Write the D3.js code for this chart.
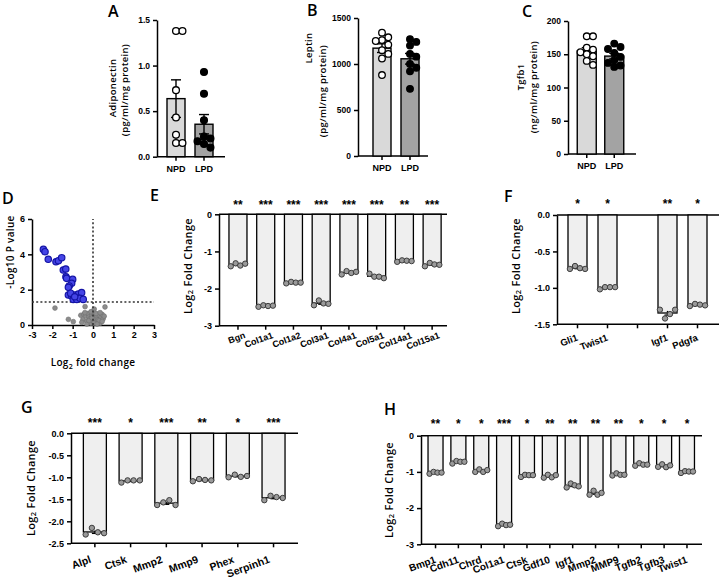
<!DOCTYPE html>
<html>
<head>
<meta charset="utf-8">
<script src="https://cdn.jsdelivr.net/npm/d3@7"></script>
<style>
  body { margin: 0; background: #fff; }
</style>
</head>
<body>
<svg id="fig" width="723" height="584"></svg>
<script>
// ---- data ----
var groups = ['NPD', 'LPD'];
var adipoNPD = [1.38, 1.38, 0.73, 0.43, 0.24, 0.15, 0.15];
var adipoLPD = [0.93, 0.69, 0.40, 0.22, 0.20, 0.17, 0.14, 0.10];
var leptinNPD = [1340, 1290, 1260, 1250, 1210, 1150, 1110, 1060, 880];
var leptinLPD = [1270, 1240, 1200, 1110, 1080, 1000, 960, 920, 730];
var tgfbNPD = [177, 177, 160, 157, 153, 150, 147, 140, 134];
var tgfbLPD = [166, 161, 158, 152, 146, 141, 137, 133, 131];

var sigX = [-2.44, -2.36, -2.2, -1.82, -1.7, -1.54, -1.46, -1.34, -1.33, -1.3, -1.0, -1.05, -1.17, -1.21,
            -1.21, -1.05, -0.89, -0.72, -0.56, -0.97, -0.8, -0.64, -0.48, -1.1, -0.9];
var sigY = [4.28, 4.15, 3.72, 3.58, 3.64, 3.81, 3.11, 3.17, 2.73, 2.64, 2.58, 2.36, 2.21, 2.13,
            1.7, 1.64, 1.7, 1.75, 1.83, 1.45, 1.45, 1.51, 1.45, 1.8, 1.6];
var nsX = [-1.87, -1.21, -0.97, -0.39, 0.06, 0.59, -0.6, -0.5, -0.45, -0.35, -0.3, -0.25, -0.2, -0.15,
           -0.1, -0.05, 0.0, 0.05, 0.1, 0.15, 0.2, 0.25, 0.3, 0.35, 0.4, 0.45, 0.5, 0.55, -0.55, -0.4,
           -0.3, -0.2, -0.1, 0.05, 0.15, 0.3, 0.45, 0.2, -0.05, 0.35];
var nsY = [0.96, 0.32, 0.19, 1.04, 0.9, 1.02, 0.55, 0.3, 0.6, 0.5, 0.2, 0.65, 0.45, 0.35,
           0.1, 0.55, 0.25, 0.6, 0.4, 0.15, 0.5, 0.3, 0.55, 0.1, 0.45, 0.6, 0.35, 0.5, 0.15, 0.7,
           0.05, 0.25, 0.75, 0.1, 0.65, 0.25, 0.2, 0.05, 0.4, 0.7];

var genesE = ['Bgn', 'Col1a1', 'Col1a2', 'Col3a1', 'Col4a1', 'Col5a1', 'Col14a1', 'Col15a1'];
var repsE = [[-1.40, -1.32, -1.38, -1.33], [-2.49, -2.45, -2.47, -2.46], [-1.86, -1.82, -1.84, -1.84],
             [-2.45, -2.32, -2.40, -2.41], [-1.62, -1.53, -1.58, -1.55], [-1.60, -1.68, -1.68, -1.72],
             [-1.28, -1.24, -1.25, -1.26], [-1.40, -1.31, -1.35, -1.36]];
var starsE = ['**', '***', '***', '***', '***', '***', '**', '***'];

var genesF = ['Gli1', 'Twist1', '', 'Igf1', 'Pdgfa'];
var repsF = [[-0.74, -0.70, -0.73, -0.74], [-1.02, -0.99, -0.99, -0.99], null,
             [-1.30, -1.42, -1.36, -1.30], [-1.25, -1.22, -1.23, -1.24]];
var starsF = ['*', '*', '', '**', '*'];

var genesG = ['Alpl', 'Ctsk', 'Mmp2', 'Mmp9', 'Phex', 'Serpinh1'];
var repsG = [[-2.30, -2.15, -2.25, -2.27], [-1.12, -1.07, -1.07, -1.07], [-1.63, -1.57, -1.52, -1.63],
             [-1.09, -1.04, -1.06, -1.07], [-1.00, -0.94, -0.99, -0.97], [-1.52, -1.42, -1.45, -1.47]];
var starsG = ['***', '*', '***', '**', '*', '***'];

var genesH = ['Bmp1', 'Cdh11', 'Chrd', 'Col1a1', 'Ctsk', 'Gdf10', 'Igf1', 'Mmp2', 'MMP9', 'Tgfb2', 'Tgfb3', 'Twist1'];
var repsH = [[-1.05, -1.00, -1.02, -1.02], [-0.77, -0.70, -0.72, -0.72], [-1.00, -0.93, -1.00, -0.95],
             [-2.50, -2.43, -2.47, -2.46], [-1.14, -1.08, -1.09, -1.09], [-1.16, -1.08, -1.15, -1.09],
             [-1.43, -1.32, -1.37, -1.40], [-1.63, -1.52, -1.63, -1.58], [-1.10, -1.04, -1.08, -1.08],
             [-0.83, -0.76, -0.80, -0.80], [-0.86, -0.79, -0.87, -0.82], [-1.03, -0.98, -0.99, -0.99]];
var starsH = ['**', '*', '*', '***', '*', '**', '**', '**', '**', '*', '*', '*'];

// ---- drawing ----
var NUM = '"Liberation Sans", Arial, sans-serif';
var LAB = '"Open Sans", "Liberation Sans", sans-serif';
var svg = d3.select('#fig');
svg.append('rect').attr('width', 723).attr('height', 584).attr('fill', '#fff');

function fmt(f) {
  return function (d) { return d3.format(f)(d).replace('\u2212', '-'); };
}

function styleAxis(sel, fs) {
  sel.attr('font-family', NUM).attr('font-size', fs).attr('font-weight', 'bold');
  sel.select('.domain').attr('stroke', '#000').attr('stroke-width', 1.5);
  sel.selectAll('.tick line').attr('stroke', '#000').attr('stroke-width', 1.5);
  sel.selectAll('.tick text').attr('fill', '#000');
}

function letter(t, x, y) {
  svg.append('text').attr('x', x).attr('y', y).text(t)
    .attr('font-family', LAB).attr('font-size', 16).attr('font-weight', 600);
}

function vText(txt, x, y, fs, weight) {
  return svg.append('text')
    .attr('transform', 'translate(' + x + ',' + y + ') rotate(-90)')
    .attr('text-anchor', 'middle').attr('dominant-baseline', 'central')
    .attr('font-family', LAB).attr('font-size', fs).attr('font-weight', weight || 600)
    .attr('letter-spacing', 0.3)
    .text(txt);
}

function swarm(vals, y, r) {
  var placed = [];
  var steps = [0, 1, -1, 2, -2, 3, -3, 4, -4];
  return vals.map(function (v) {
    var cy = y(v), off = 0;
    for (var i = 0; i < steps.length; i++) {
      off = steps[i] * r * 1.9;
      var ok = placed.every(function (p) { return Math.hypot(p[0] - off, p[1] - cy) >= 2 * r - 0.6; });
      if (ok) break;
    }
    placed.push([off, cy]);
    return [off, cy];
  });
}

function meanSem(v) {
  var m = d3.mean(v);
  return [m, d3.deviation(v) / Math.sqrt(v.length)];
}

// panels A-C
function groupPanel(o) {
  var y = d3.scaleLinear().domain([0, o.yMax]).range([o.yBot, o.yTop]);
  var x = d3.scalePoint().domain(groups).range(o.xr).padding(0.5);
  var g = svg.append('g');
  var fills = ['#d9d9d9', '#a3a3a3'];

  g.append('g').attr('transform', 'translate(' + o.axisX + ',0)')
    .call(d3.axisLeft(y).tickValues(o.ticks).tickFormat(fmt(o.fmt)).tickSize(4).tickSizeOuter(0))
    .call(styleAxis, 8.5);

  var xa = g.append('g').attr('transform', 'translate(0,' + o.yBot + ')');
  xa.append('line').attr('x1', o.axisX).attr('x2', o.axisEnd).attr('stroke', '#000').attr('stroke-width', 1.5);
  groups.forEach(function (grp, i) {
    xa.append('line').attr('x1', x(grp)).attr('x2', x(grp)).attr('y2', 4).attr('stroke', '#000').attr('stroke-width', 1.5);
    xa.append('text').attr('x', x(grp)).attr('y', 15).attr('text-anchor', 'middle')
      .attr('font-family', NUM).attr('font-size', 9).attr('font-weight', 'bold').text(grp);
  });

  o.data.forEach(function (vals, i) {
    var cx = x(groups[i]);
    var ms = meanSem(vals);
    g.append('rect').attr('x', cx - o.bw / 2).attr('y', y(ms[0]))
      .attr('width', o.bw).attr('height', o.yBot - y(ms[0]))
      .attr('fill', fills[i]).attr('stroke', '#000').attr('stroke-width', 1.4);
    var eb = g.append('g').attr('stroke', '#000').attr('stroke-width', 1.4);
    eb.append('line').attr('x1', cx).attr('x2', cx).attr('y1', y(ms[0] + ms[1])).attr('y2', y(ms[0] - ms[1]));
    [ms[0] + ms[1], ms[0] - ms[1]].forEach(function (v) {
      eb.append('line').attr('x1', cx - 5).attr('x2', cx + 5).attr('y1', y(v)).attr('y2', y(v));
    });
    var pts = swarm(vals, y, o.r);
    g.selectAll(null).data(pts).enter().append('circle')
      .attr('cx', function (p) { return cx + p[0]; })
      .attr('cy', function (p) { return p[1]; })
      .attr('r', o.r)
      .attr('fill', i === 0 ? '#fff' : '#000')
      .attr('stroke', '#000').attr('stroke-width', 1.3);
  });

  vText(o.t1, o.t1x, o.t1y, 9.5);
  vText(o.t2, o.t2x, o.t2y, 9.5);
  letter(o.letter, o.lx, o.ly);
}

groupPanel({ letter: 'A', lx: 108, ly: 17, data: [adipoNPD, adipoLPD], yMax: 1.5, ticks: [0, 0.5, 1, 1.5], fmt: '.1f',
  axisX: 157, axisEnd: 225, yTop: 20, yBot: 156.7, xr: [162, 218], bw: 18, r: 3.4,
  t1: 'Adiponectin', t1x: 112, t1y: 88, t2: '(pg/ml/mg protein)', t2x: 124, t2y: 90 });
groupPanel({ letter: 'B', lx: 307, ly: 16, data: [leptinNPD, leptinLPD], yMax: 1500, ticks: [0, 500, 1000, 1500], fmt: 'd',
  axisX: 358, axisEnd: 428, yTop: 18, yBot: 156, xr: [368, 424], bw: 18, r: 3.3,
  t1: 'Leptin', t1x: 308, t1y: 48, t2: '(pg/ml/mg protein)', t2x: 322, t2y: 91 });
groupPanel({ letter: 'C', lx: 522, ly: 17, data: [tgfbNPD, tgfbLPD], yMax: 200, ticks: [0, 50, 100, 150, 200], fmt: 'd',
  axisX: 568, axisEnd: 636, yTop: 21, yBot: 154, xr: [573, 628], bw: 19, r: 3.3,
  t1: 'Tgfb1', t1x: 520, t1y: 77, t2: '(ng/ml/mg protein)', t2x: 533, t2y: 87 });

// panel D volcano
(function () {
  var x = d3.scaleLinear().domain([-3, 3]).range([32, 154]);
  var y = d3.scaleLinear().domain([0, 6]).range([325, 219]);
  var g = svg.append('g');
  g.append('g').attr('transform', 'translate(0,325)')
    .call(d3.axisBottom(x).tickValues([-3, -2, -1, 0, 1, 2, 3]).tickFormat(fmt('d')).tickSize(4).tickSizeOuter(0))
    .call(styleAxis, 9);
  g.append('g').attr('transform', 'translate(32,0)')
    .call(d3.axisLeft(y).tickValues([0, 2, 4, 6]).tickFormat(fmt('d')).tickSize(4).tickSizeOuter(0))
    .call(styleAxis, 9);

  g.selectAll('.ns').data(nsX).enter().append('circle')
    .attr('cx', function (d) { return x(d); })
    .attr('cy', function (d, i) { return y(nsY[i]); })
    .attr('r', 2.4).attr('fill', '#8c8c8c').attr('stroke', '#6f6f6f').attr('stroke-width', 0.6);

  g.append('line').attr('x1', x(-3)).attr('x2', x(3)).attr('y1', y(1.3)).attr('y2', y(1.3))
    .attr('stroke', '#333').attr('stroke-width', 1.6).attr('stroke-dasharray', '2,2.2');
  g.append('line').attr('x1', x(0)).attr('x2', x(0)).attr('y1', y(0)).attr('y2', y(6))
    .attr('stroke', '#333').attr('stroke-width', 1.6).attr('stroke-dasharray', '2,2.2');

  g.selectAll('.sig').data(sigX).enter().append('circle')
    .attr('cx', function (d) { return x(d); })
    .attr('cy', function (d, i) { return y(sigY[i]); })
    .attr('r', 3.2).attr('fill', '#4545e6').attr('stroke', '#1414a6').attr('stroke-width', 1.2);

  vText('-Log10 P value', 10, 252, 10);
  var xl = svg.append('text').attr('x', 93).attr('y', 366).attr('text-anchor', 'middle')
    .attr('font-family', LAB).attr('font-size', 10).attr('font-weight', 600).attr('letter-spacing', 0.3);
  xl.append('tspan').text('Log');
  xl.append('tspan').attr('font-size', 7).attr('dy', 3).text('2');
  xl.append('tspan').attr('dy', -3).text(' fold change');
  letter('D', 2, 204);
})();

// panels E-H
function foldPanel(o) {
  var y = d3.scaleLinear().domain([o.min, 0]).range([o.yBot, o.yTop]);
  var idx = o.genes.map(function (d, i) { return i; });
  var x = d3.scalePoint().domain(idx).range(o.xr).padding(0.5);
  var g = svg.append('g');

  g.append('g').attr('transform', 'translate(' + o.axisX + ',0)')
    .call(d3.axisLeft(y).tickValues(o.ticks).tickFormat(fmt(o.fmt)).tickSize(4).tickSizeOuter(0))
    .call(styleAxis, o.tfs);

  [0, o.min].forEach(function (v) {
    g.append('line').attr('x1', o.axisX).attr('x2', o.axisEnd).attr('y1', y(v)).attr('y2', y(v))
      .attr('stroke', '#000').attr('stroke-width', 1.5);
  });

  idx.forEach(function (i) {
    var cx = x(i);
    g.append('line').attr('x1', cx).attr('x2', cx).attr('y1', o.yBot).attr('y2', o.yBot + 4)
      .attr('stroke', '#000').attr('stroke-width', 1.5);
    if (o.genes[i]) {
      g.append('text').attr('text-anchor', 'end')
        .attr('transform', 'translate(' + (cx + o.ldx) + ',' + (o.yBot + o.ldy) + ') rotate(-20)')
        .attr('font-family', NUM).attr('font-size', o.lfs).attr('font-weight', 'bold').text(o.genes[i]);
    }
    if (o.stars[i]) {
      g.append('text').attr('x', cx).attr('y', o.starY).attr('text-anchor', 'middle')
        .attr('font-family', NUM).attr('font-size', 12).attr('font-weight', 'bold').text(o.stars[i]);
    }
    var reps = o.reps[i];
    if (!reps) return;
    var ms = meanSem(reps);
    g.append('rect').attr('x', cx - o.bw / 2).attr('y', y(0))
      .attr('width', o.bw).attr('height', y(ms[0]) - y(0))
      .attr('fill', '#efefef').attr('stroke', '#000').attr('stroke-width', 1.3);
    var eb = g.append('g').attr('stroke', '#000').attr('stroke-width', 1.3);
    eb.append('line').attr('x1', cx).attr('x2', cx).attr('y1', y(ms[0] + ms[1])).attr('y2', y(ms[0] - ms[1]));
    eb.append('line').attr('x1', cx - 3).attr('x2', cx + 3).attr('y1', y(ms[0] - ms[1])).attr('y2', y(ms[0] - ms[1]));
    var offs = [-0.4, -0.13, 0.13, 0.4];
    g.selectAll(null).data(reps).enter().append('circle')
      .attr('cx', function (d, j) { return cx + offs[j] * o.bw; })
      .attr('cy', function (d) { return y(d); })
      .attr('r', 2.7).attr('fill', '#9a9a9a').attr('stroke', '#3c3c3c').attr('stroke-width', 1);
  });

  var yl = svg.append('text')
    .attr('transform', 'translate(' + o.ylx + ',' + o.yly + ') rotate(-90)')
    .attr('text-anchor', 'middle').attr('dominant-baseline', 'central')
    .attr('font-family', LAB).attr('font-size', 11).attr('font-weight', 600).attr('letter-spacing', 0.3);
  yl.append('tspan').text('Log');
  yl.append('tspan').attr('font-size', 7.5).attr('dy', 3).text('2');
  yl.append('tspan').attr('dy', -3).text(' Fold Change');

  letter(o.letter, o.lx, o.ly);
}

foldPanel({ letter: 'E', lx: 150, ly: 201, genes: genesE, reps: repsE, stars: starsE, min: -3, ticks: [0, -1, -2, -3], fmt: 'd',
  axisX: 219, axisEnd: 447, yTop: 214.3, yBot: 325.7, xr: [224.1, 446], bw: 18, tfs: 9,
  starY: 209, ldx: 8, ldy: 12, lfs: 9, ylx: 187, yly: 266 });
foldPanel({ letter: 'F', lx: 504, ly: 202, genes: genesF, reps: repsF, stars: starsF, min: -1.5, ticks: [0, -0.5, -1, -1.5], fmt: '.1f',
  axisX: 557, axisEnd: 719, yTop: 215, yBot: 324.3, xr: [562.5, 712.5], bw: 19, tfs: 9,
  starY: 208, ldx: 1, ldy: 16, lfs: 9.5, ylx: 515, yly: 266 });
foldPanel({ letter: 'G', lx: 21, ly: 413, genes: genesG, reps: repsG, stars: starsG, min: -2.5, ticks: [0, -0.5, -1, -1.5, -2, -2.5], fmt: '.1f',
  axisX: 71, axisEnd: 298, yTop: 433.3, yBot: 543.3, xr: [77, 291.4], bw: 23, tfs: 9,
  starY: 427, ldx: -3, ldy: 19, lfs: 10.5, ylx: 30, yly: 488 });
foldPanel({ letter: 'H', lx: 384, ly: 415, genes: genesH, reps: repsH, stars: starsH, min: -3, ticks: [0, -1, -2, -3], fmt: 'd',
  axisX: 421, axisEnd: 702, yTop: 435.7, yBot: 544.3, xr: [424.1, 698.4], bw: 15, tfs: 9,
  starY: 428, ldx: 1, ldy: 18, lfs: 10, ylx: 388, yly: 490 });
</script>
</body>
</html>
